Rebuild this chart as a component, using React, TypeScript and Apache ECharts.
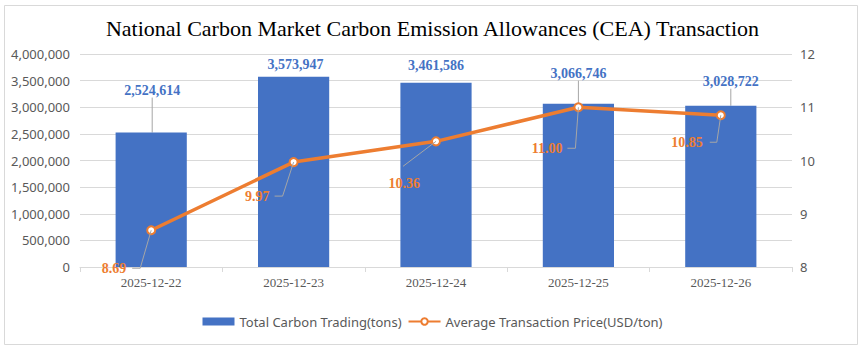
import React, { useEffect, useRef } from "react";
import * as echarts from "echarts";

const categories = ["2025-12-22", "2025-12-23", "2025-12-24", "2025-12-25", "2025-12-26"];
const tradingTons = [2524614, 3573947, 3461586, 3066746, 3028722];
const avgPrice = [8.69, 9.97, 10.36, 11.0, 10.85];

// label layout (offsets in px, relative to the data point)
const barLabelOffsets = [[1, -30], [2, 0], [0, -5], [0, -18], [10, -12]];
const barLeaderShown = [true, false, false, true, true];
const priceTextOffsets = [[-25, 38], [-24, 34], [-16, 42], [-16, 41], [-18, 27]];
const priceLeaderOffsets = [
  [[-11, 38], [-19, 38]],
  [[-11, 34], [-19, 34]],
  [[-33, 25]],
  [[-3, 41], [-11, 41]],
  [[-4, 27], [-11, 27]],
];

export default function App() {
  const ref = useRef<HTMLDivElement>(null);
  useEffect(() => {
    const chart = echarts.init(ref.current!, null, { renderer: "svg" });
    const leader = { color: "#A6A6A6", width: 1 };
    chart.setOption({
      animation: false,
      backgroundColor: "#ffffff",
      title: {
        text: "National Carbon Market Carbon Emission Allowances (CEA) Transaction",
        left: "center",
        top: 12,
        textStyle: { fontFamily: "Liberation Serif", fontSize: 22, fontWeight: "normal", color: "#000000" },
      },
      graphic: [
        {
          type: "rect",
          shape: { x: 4.5, y: 5.5, width: 853, height: 339 },
          style: { fill: "none", stroke: "#D9D9D9", lineWidth: 1 },
          silent: true,
        },
      ],
      grid: { left: 80, right: 73, top: 54, bottom: 85 },
      legend: {
        bottom: 19,
        left: "center",
        itemGap: 6,
        itemWidth: 32,
        itemHeight: 8,
        textStyle: { fontFamily: "Noto Sans", fontSize: 13, color: "#595959" },
        data: [
          { name: "Total Carbon Trading(tons)", icon: "rect" },
          { name: "Average Transaction Price(USD/ton)" },
        ],
      },
      xAxis: {
        type: "category",
        data: categories,
        axisLine: { lineStyle: { color: "#D9D9D9" } },
        axisTick: { show: true, length: 5, lineStyle: { color: "#D9D9D9" } },
        axisLabel: { fontFamily: "Liberation Serif", fontSize: 13, color: "#595959", margin: 9 },
      },
      yAxis: [
        {
          type: "value",
          min: 0,
          max: 4000000,
          interval: 500000,
          axisLine: { show: false },
          axisTick: { show: false },
          splitLine: { lineStyle: { color: "#D9D9D9" } },
          axisLabel: {
            fontFamily: "Noto Sans",
            fontSize: 13,
            color: "#595959",
            margin: 10,
            formatter: (v: number) => v.toLocaleString("en-US"),
          },
        },
        {
          type: "value",
          min: 8,
          max: 12,
          interval: 1,
          axisLine: { show: false },
          axisTick: { show: false },
          splitLine: { show: false },
          axisLabel: { fontFamily: "Noto Sans", fontSize: 13, color: "#595959", margin: 8 },
        },
      ],
      series: [
        {
          name: "Total Carbon Trading(tons)",
          type: "bar",
          data: tradingTons.map((v, i) => ({
            value: v,
            labelLine: { show: barLeaderShown[i], length2: 0, lineStyle: leader },
          })),
          barWidth: "50%",
          itemStyle: { color: "#4472C4" },
          label: {
            show: true,
            position: "top",
            fontFamily: "Liberation Serif",
            fontWeight: "bold",
            fontSize: 14,
            color: "#4472C4",
            formatter: (p: any) => Number(p.value).toLocaleString("en-US"),
          },
          labelLayout: (p: any) => ({ dx: barLabelOffsets[p.dataIndex][0], dy: barLabelOffsets[p.dataIndex][1] }),
        },
        {
          name: "Average Transaction Price(USD/ton)",
          type: "line",
          yAxisIndex: 1,
          data: avgPrice,
          symbol: "circle",
          symbolSize: 8,
          lineStyle: { color: "#ED7D31", width: 3.5 },
          itemStyle: { color: "#ffffff", borderColor: "#ED7D31", borderWidth: 2 },
          z: 3,
        },
        {
          name: "priceLabels",
          type: "custom",
          yAxisIndex: 1,
          clip: false,
          silent: true,
          z: 5,
          data: avgPrice.map((v, i) => [i, v]),
          renderItem: (params: any, api: any) => {
            const i = params.dataIndex;
            const p = api.coord([api.value(0), api.value(1)]);
            const pts = [[p[0], p[1]], ...priceLeaderOffsets[i].map((o) => [p[0] + o[0], p[1] + o[1]])];
            return {
              type: "group",
              children: [
                {
                  type: "polyline",
                  shape: { points: pts },
                  style: { stroke: "#A6A6A6", lineWidth: 1, fill: "none" },
                },
                {
                  type: "text",
                  style: {
                    text: Number(api.value(1)).toFixed(2),
                    x: p[0] + priceTextOffsets[i][0],
                    y: p[1] + priceTextOffsets[i][1],
                    align: "right",
                    verticalAlign: "middle",
                    fontFamily: "Liberation Serif",
                    fontWeight: "bold",
                    fontSize: 14,
                    fill: "#ED7D31",
                  },
                },
              ],
            };
          },
        },
      ],
    });
    return () => chart.dispose();
  }, []);
  return (
    <div
      ref={ref}
      style={{ position: "absolute", left: 0, top: 0, width: 865, height: 352, background: "#ffffff" }}
    />
  );
}
